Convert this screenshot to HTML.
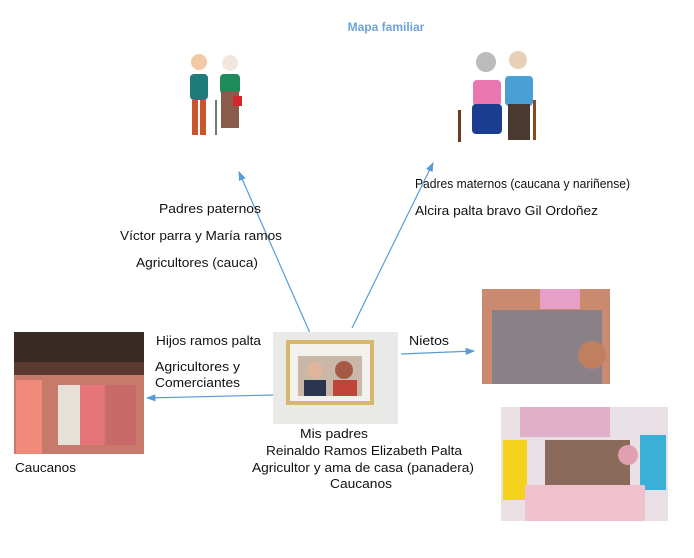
<!DOCTYPE html>
<html><head><meta charset="utf-8"><style>
html,body{margin:0;padding:0;background:#fff;}
svg{display:block;font-family:"Liberation Sans",sans-serif;}
</style></head><body>
<svg width="694" height="558" viewBox="0 0 694 558" xmlns="http://www.w3.org/2000/svg">
<defs><marker id="a" markerWidth="8" markerHeight="8" refX="7" refY="4" orient="auto"><path d="M0,1 L8,4 L0,7 Z" fill="#5b9bd5"/></marker></defs>
<text x="386" y="31" text-anchor="middle" font-size="12" font-weight="bold" fill="#6fa3d6">Mapa familiar</text>
<g>
<circle cx="199" cy="62" r="8" fill="#f3c9a5"/><rect x="190" y="74" width="18" height="26" rx="4" fill="#1f7a7a"/><rect x="192" y="100" width="6" height="35" fill="#c8552c"/><rect x="200" y="100" width="6" height="35" fill="#c8552c"/>
<circle cx="230" cy="63" r="8" fill="#f1e7df"/><rect x="220" y="74" width="20" height="20" rx="4" fill="#1f8a5a"/><rect x="221" y="92" width="18" height="36" fill="#8a5a4a"/><rect x="233" y="96" width="9" height="10" fill="#d4262d"/><rect x="215" y="100" width="2" height="35" fill="#777"/>
</g>
<g>
<circle cx="486" cy="62" r="10" fill="#bbb"/><rect x="473" y="80" width="28" height="26" rx="4" fill="#ea76b2"/><rect x="472" y="104" width="30" height="30" rx="4" fill="#1a3d8f"/><rect x="458" y="110" width="3" height="32" fill="#6b3a1f"/>
<circle cx="518" cy="60" r="9" fill="#e8d0b8"/><rect x="505" y="76" width="28" height="30" rx="4" fill="#4a9fd5"/><rect x="508" y="104" width="22" height="36" fill="#4a3a32"/><rect x="533" y="100" width="3" height="40" fill="#8a4a1f"/>
</g>
<line x1="310" y1="333" x2="239" y2="172" stroke="#5b9bd5" stroke-width="1.2" marker-end="url(#a)"/>
<line x1="352" y1="328" x2="433" y2="163" stroke="#5b9bd5" stroke-width="1.2" marker-end="url(#a)"/>
<line x1="273" y1="395" x2="147" y2="398" stroke="#5b9bd5" stroke-width="1.2" marker-end="url(#a)"/>
<line x1="401" y1="354" x2="474" y2="351" stroke="#5b9bd5" stroke-width="1.2" marker-end="url(#a)"/>
<g font-size="13" fill="#111">
<text x="159" y="213" textLength="102" lengthAdjust="spacingAndGlyphs">Padres paternos</text>
<text x="120" y="240" textLength="162" lengthAdjust="spacingAndGlyphs">Víctor parra y María ramos</text>
<text x="136" y="267" textLength="122" lengthAdjust="spacingAndGlyphs">Agricultores (cauca)</text>
<text x="415" y="188" textLength="215" lengthAdjust="spacingAndGlyphs">Padres maternos (caucana y nariñense)</text>
<text x="415" y="215" textLength="183" lengthAdjust="spacingAndGlyphs">Alcira palta bravo Gil Ordoñez</text>
<text x="156" y="345" textLength="105" lengthAdjust="spacingAndGlyphs">Hijos ramos palta</text>
<text x="155" y="371" textLength="85" lengthAdjust="spacingAndGlyphs">Agricultores y</text>
<text x="155" y="387" textLength="85" lengthAdjust="spacingAndGlyphs">Comerciantes</text>
<text x="409" y="345" textLength="40" lengthAdjust="spacingAndGlyphs">Nietos</text>
<text x="15" y="472" textLength="61" lengthAdjust="spacingAndGlyphs">Caucanos</text>
<text x="300" y="438" textLength="68" lengthAdjust="spacingAndGlyphs">Mis padres</text>
<text x="266" y="455" textLength="196" lengthAdjust="spacingAndGlyphs">Reinaldo Ramos Elizabeth Palta</text>
<text x="252" y="472" textLength="222" lengthAdjust="spacingAndGlyphs">Agricultor y ama de casa (panadera)</text>
<text x="330" y="488" textLength="62" lengthAdjust="spacingAndGlyphs">Caucanos</text>
</g>
<rect x="273" y="332" width="125" height="92" fill="#e9e9e8"/>
<rect x="286" y="340" width="88" height="65" fill="#d6b86a"/>
<rect x="290" y="344" width="80" height="57" fill="#f3f1ec"/>
<rect x="298" y="356" width="64" height="40" fill="#c9b8a8"/>
<circle cx="315" cy="370" r="8" fill="#e0b59a"/><rect x="304" y="380" width="22" height="16" fill="#2a3550"/>
<circle cx="344" cy="370" r="9" fill="#a65a45"/><rect x="333" y="380" width="24" height="16" fill="#c0443a"/>
<rect x="14" y="332" width="130" height="122" fill="#5a3a2e"/>
<rect x="14" y="332" width="130" height="30" fill="#3a2a24"/>
<rect x="14" y="375" width="130" height="79" fill="#c77a6a"/>
<rect x="16" y="380" width="26" height="74" fill="#f08a7a"/><rect x="58" y="385" width="22" height="60" fill="#e6e0d8"/><rect x="80" y="385" width="24" height="60" fill="#e6747a"/><rect x="106" y="385" width="30" height="60" fill="#c86a6a"/>
<rect x="482" y="289" width="128" height="95" fill="#c98a70"/>
<rect x="492" y="310" width="110" height="74" fill="#8a8088"/>
<rect x="540" y="289" width="40" height="20" fill="#e6a0c8"/>
<circle cx="592" cy="355" r="14" fill="#c08060"/>
<rect x="501" y="407" width="167" height="114" fill="#e8e0e4"/>
<rect x="520" y="407" width="90" height="30" fill="#e0b0c8"/>
<rect x="503" y="440" width="24" height="60" fill="#f2d21a"/>
<rect x="640" y="435" width="26" height="55" fill="#3ab0d8"/>
<rect x="525" y="485" width="120" height="36" fill="#f0c0cc"/>
<rect x="545" y="440" width="85" height="45" fill="#8a6a5a"/>
<circle cx="628" cy="455" r="10" fill="#e0a0b0"/>
</svg>
</body></html>
